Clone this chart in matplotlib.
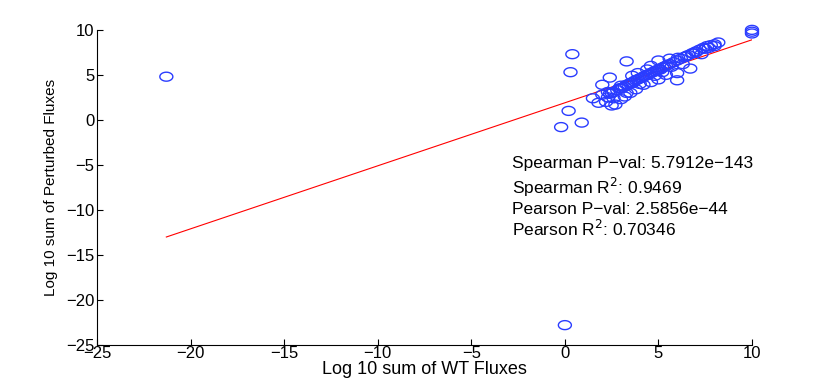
import numpy as np
import matplotlib
matplotlib.use('Agg')
import matplotlib.pyplot as plt
from matplotlib.path import Path

plt.rcParams['font.family'] = ['Liberation Sans', 'DejaVu Sans']

# log10 sums, WT vs perturbed
wt_flux = [-21.3, 0.0, 0.4, 0.3, 0.2, -0.2, 0.9, 3.3, 10.0, 10.0, 10.0,
           1.5, 1.8, 2.0, 2.3, 2.4, 2.5, 2.6, 2.8, 2.9, 3.0, 3.1, 3.2, 3.3,
           3.4, 3.5, 3.6, 3.7, 3.8, 3.9, 4.0, 4.1, 4.2, 4.3, 4.4, 4.5, 4.6,
           4.7, 4.8, 4.9, 5.0, 5.1, 5.2, 5.3, 5.4, 5.5, 5.6, 5.8, 6.0, 6.2,
           6.4, 6.6, 6.8, 7.0, 7.2, 7.4, 7.6, 7.8, 8.0, 8.2,
           2.2, 2.5, 2.7, 3.0, 3.2, 3.5, 3.8, 4.2, 4.6, 5.0, 5.4, 6.0, 6.0,
           6.7, 2.4, 3.0, 3.6, 3.9, 4.4, 4.6, 5.0, 5.6, 6.05, 6.5, 6.85,
           7.0, 7.5, 8.0, 2.0, 2.3, 2.6, 3.3, 4.0, 4.8, 5.2, 5.7, 6.3, 7.3, 7.7]
pert_flux = [4.8, -22.8, 7.3, 5.3, 1.0, -0.8, -0.3, 6.5, 10.0, 9.8, 9.6,
             2.4, 1.9, 2.8, 2.5, 2.9, 3.0, 3.1, 3.3, 3.5, 3.5, 3.6, 3.7, 3.9,
             3.9, 4.1, 4.1, 4.3, 4.4, 4.5, 4.6, 4.7, 4.8, 4.9, 5.0, 5.1, 5.2,
             5.3, 5.4, 5.5, 5.6, 5.6, 5.8, 5.9, 6.0, 6.1, 6.2, 6.4, 6.6, 6.8,
             7.0, 7.2, 7.4, 7.6, 7.8, 8.0, 8.2, 8.3, 8.4, 8.6,
             2.0, 1.6, 1.7, 2.3, 2.6, 3.0, 3.4, 3.9, 4.2, 4.5, 5.0, 4.4, 5.2,
             5.7, 4.7, 3.8, 4.9, 5.2, 5.6, 6.0, 6.6, 6.8, 6.9, 7.1, 7.4,
             7.5, 7.9, 8.2, 3.9, 3.1, 2.4, 3.0, 4.0, 4.9, 5.3, 5.9, 6.2, 7.3, 8.0]

# linear fit
fit_slope = 0.70
fit_intercept = 1.9

stats_lines = ['Spearman P\u2212val: 5.7912e\u2212143',
               'Spearman R$^2$: 0.9469',
               'Pearson P\u2212val: 2.5856e\u221244',
               'Pearson R$^2$: 0.70346']
stats_y = [-4.9, -7.5, -10.0, -12.1]

# ellipse marker (the original figure was stretched horizontally)
t = np.linspace(0, 2 * np.pi, 40)
ellipse = Path(np.column_stack([1.45 * np.cos(t), np.sin(t)]), closed=True)

fig = plt.figure(figsize=(8.3, 3.88), dpi=100)
ax = fig.add_axes([0.117, 0.111, 0.789, 0.812])

ax.scatter(wt_flux, pert_flux, s=88, marker=ellipse, facecolors='none',
           edgecolors='#2a3cff', linewidths=1.0, zorder=3, clip_on=False)

fx = np.array([min(wt_flux), max(wt_flux)])
ax.plot(fx, fit_slope * fx + fit_intercept, color='red', linewidth=0.8, zorder=2)

for line, y in zip(stats_lines, stats_y):
    ax.text(-2.8, y, line, fontsize=12.5, va='center', ha='left')

ax.set_xlim(-25, 10)
ax.set_ylim(-25, 10)
ax.set_xticks(np.arange(-25, 11, 5))
ax.set_yticks(np.arange(-25, 11, 5))
ax.tick_params(direction='in', length=4, width=0.8, labelsize=12, pad=2)
ax.tick_params(axis='x', pad=1)
ax.spines['top'].set_visible(False)
ax.spines['right'].set_visible(False)
ax.set_xlabel('Log 10 sum of WT Fluxes', fontsize=13, labelpad=0)
ax.set_ylabel('Log 10 sum of Perturbed Fluxes', fontsize=11, labelpad=6)

fig.savefig('out.png', dpi=100)
